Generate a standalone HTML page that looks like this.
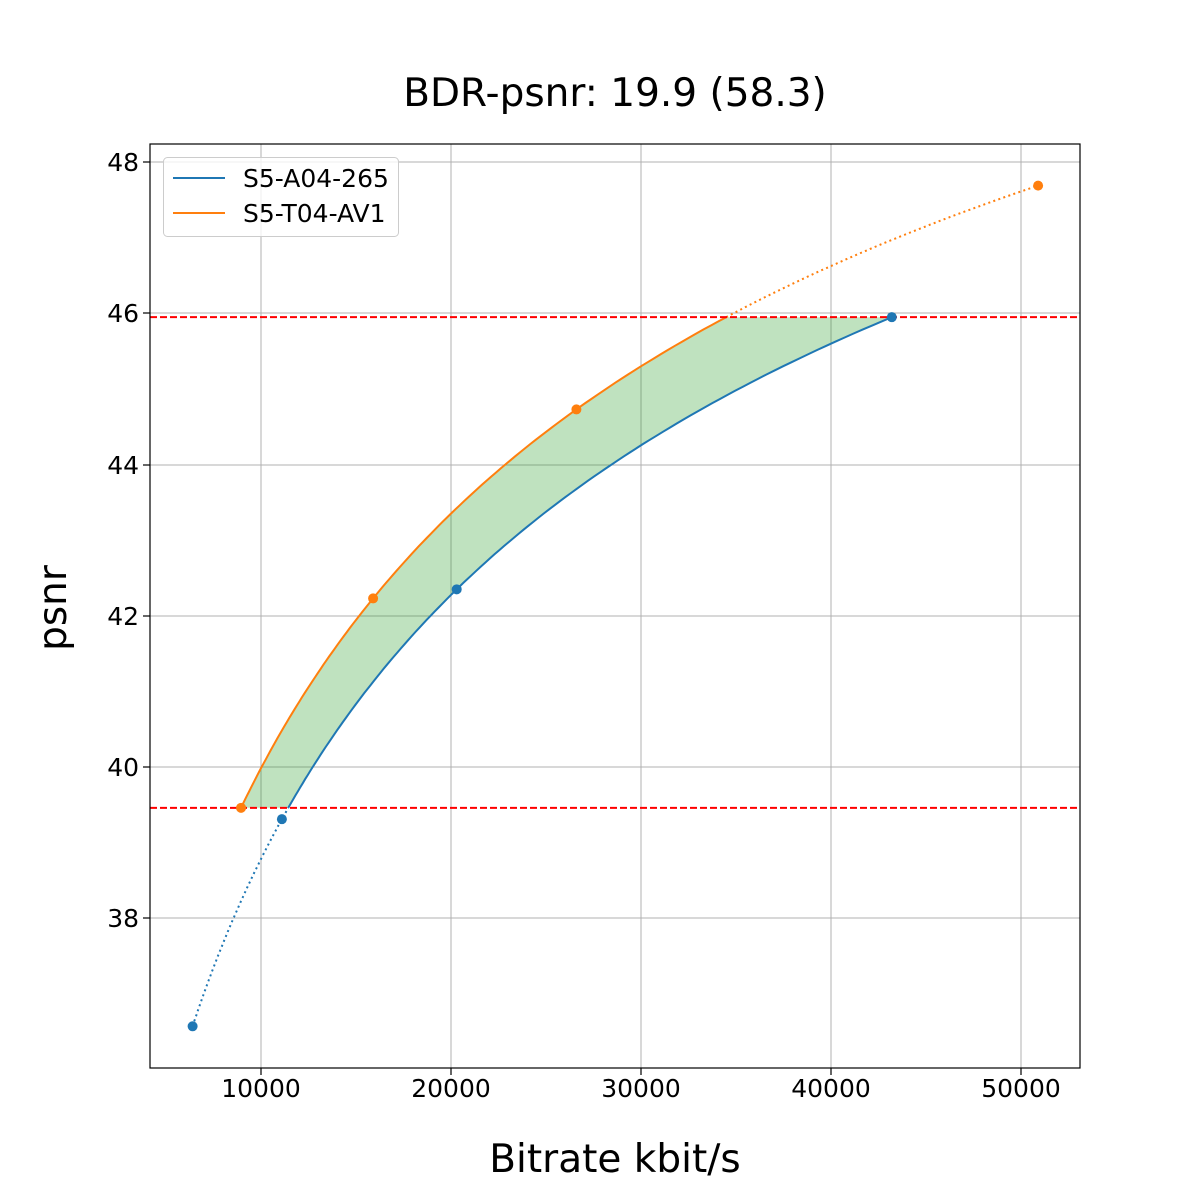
<!DOCTYPE html>
<html><head><meta charset="utf-8"><style>
html,body{margin:0;padding:0;background:#fff;}
svg{display:block;font-family:"DejaVu Sans","Liberation Sans",sans-serif;}
</style></head><body>
<svg id="s" width="1200" height="1200" viewBox="0 0 1200 1200">
<rect width="1200" height="1200" fill="#fff"/>
<g stroke="#b0b0b0" stroke-width="1">
<line x1="261" y1="144" x2="261" y2="1068"/><line x1="451" y1="144" x2="451" y2="1068"/>
<line x1="641" y1="144" x2="641" y2="1068"/><line x1="831" y1="144" x2="831" y2="1068"/>
<line x1="1021" y1="144" x2="1021" y2="1068"/>
<line x1="150" y1="162" x2="1080" y2="162"/><line x1="150" y1="313" x2="1080" y2="313"/>
<line x1="150" y1="465" x2="1080" y2="465"/><line x1="150" y1="616" x2="1080" y2="616"/>
<line x1="150" y1="767" x2="1080" y2="767"/><line x1="150" y1="918" x2="1080" y2="918"/>
</g>
<g id="plot"></g>
<rect x="150" y="144" width="930" height="924" fill="none" stroke="#000" stroke-width="1.2"/>
<g stroke="#000" stroke-width="1.2">
<line x1="261" y1="1068" x2="261" y2="1075"/><line x1="451" y1="1068" x2="451" y2="1075"/>
<line x1="641" y1="1068" x2="641" y2="1075"/><line x1="831" y1="1068" x2="831" y2="1075"/>
<line x1="1021" y1="1068" x2="1021" y2="1075"/>
<line x1="143" y1="162" x2="150" y2="162"/><line x1="143" y1="313" x2="150" y2="313"/>
<line x1="143" y1="465" x2="150" y2="465"/><line x1="143" y1="616" x2="150" y2="616"/>
<line x1="143" y1="767" x2="150" y2="767"/><line x1="143" y1="918" x2="150" y2="918"/>
</g>
<g font-size="25" text-anchor="middle" fill="#000">
<text x="261" y="1097">10000</text><text x="451" y="1097">20000</text><text x="641" y="1097">30000</text>
<text x="831" y="1097">40000</text><text x="1021" y="1097">50000</text>
</g>
<g font-size="25" text-anchor="end" fill="#000">
<text x="139" y="171">48</text><text x="139" y="322">46</text><text x="139" y="474">44</text>
<text x="139" y="625">42</text><text x="139" y="776">40</text><text x="139" y="927">38</text>
</g>
<text x="615" y="106" font-size="39" text-anchor="middle">BDR-psnr: 19.9 (58.3)</text>
<text x="615" y="1172" font-size="39" text-anchor="middle">Bitrate kbit/s</text>
<text transform="translate(66,608) rotate(-90)" font-size="39" text-anchor="middle">psnr</text>
<g>
<rect x="163.5" y="157.5" width="235" height="79" rx="4" fill="#fff" fill-opacity="0.8" stroke="#ccc"/>
<line x1="173" y1="178" x2="225" y2="178" stroke="#1f77b4" stroke-width="2"/>
<line x1="173" y1="213" x2="225" y2="213" stroke="#ff7f0e" stroke-width="2"/>
<text x="243" y="187" font-size="25">S5-A04-265</text>
<text x="243" y="222" font-size="25">S5-T04-AV1</text>
</g>
</svg>
<script>
function px(r){return 71+r*0.019;}
function py(v){return 767-(v-40)*75.6;}
function lag(P,R){var L=R.map(Math.log);return function(p){var s=0;for(var i=0;i<4;i++){var t=L[i];for(var j=0;j<4;j++)if(j!=i)t*=(p-P[j])/(P[i]-P[j]);s+=t;}return Math.exp(s);};}
var bP=[36.57,39.31,42.35,45.95],bR=[6400,11100,20300,43200];
var oP=[39.46,42.23,44.73,47.69],oR=[8950,15900,26600,50900];
var fb=lag(bP,bR),fo=lag(oP,oR);
var lo=39.46,hi=45.95,N=120;
function pts(f,a,b){var o=[];for(var i=0;i<=N;i++){var p=a+(b-a)*i/N;o.push(px(f(p)).toFixed(1)+","+py(p).toFixed(1));}return o;}
var bs=pts(fb,lo,hi),os=pts(fo,lo,hi);
var g=document.getElementById("plot"),h="";
h+='<polygon points="'+os.join(" ")+" "+bs.slice().reverse().join(" ")+'" fill="#2ca02c" fill-opacity="0.3"/>';
h+='<polyline points="'+pts(fb,36.57,lo).join(" ")+'" fill="none" stroke="#1f77b4" stroke-width="2" stroke-dasharray="2,3.3"/>';
h+='<polyline points="'+pts(fo,hi,47.69).join(" ")+'" fill="none" stroke="#ff7f0e" stroke-width="2" stroke-dasharray="2,3.3"/>';
h+='<polyline points="'+bs.join(" ")+'" fill="none" stroke="#1f77b4" stroke-width="2"/>';
h+='<polyline points="'+os.join(" ")+'" fill="none" stroke="#ff7f0e" stroke-width="2"/>';
h+='<line x1="150" y1="'+py(hi)+'" x2="1080" y2="'+py(hi)+'" stroke="red" stroke-width="2" stroke-dasharray="7,3"/>';
h+='<line x1="150" y1="'+py(lo)+'" x2="1080" y2="'+py(lo)+'" stroke="red" stroke-width="2" stroke-dasharray="7,3"/>';
for(var i=0;i<4;i++){h+='<circle cx="'+px(bR[i])+'" cy="'+py(bP[i])+'" r="5" fill="#1f77b4"/>';h+='<circle cx="'+px(oR[i])+'" cy="'+py(oP[i])+'" r="5" fill="#ff7f0e"/>';}
g.innerHTML=h;
</script>
</body></html>
